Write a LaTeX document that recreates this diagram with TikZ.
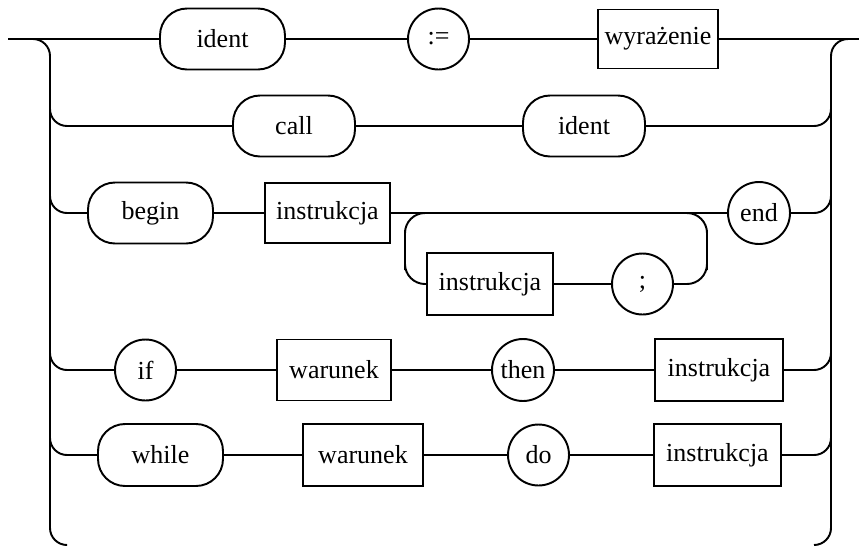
\documentclass[tikz,border=0pt]{standalone}
\usepackage{fontspec}
\setmainfont{Liberation Serif}

\tikzset{
  term/.style={draw, rectangle, rounded corners=0.54cm, minimum width=2.5cm, minimum height=1.22cm, inner sep=0pt},
  nterm/.style={draw, rectangle, minimum width=2.5cm, minimum height=1.22cm, inner sep=2pt},
  kw/.style={draw, circle, minimum size=1.22cm, inner sep=0pt},
  bus/.style={rounded corners=0.34cm},
  lp/.style={rounded corners=0.4cm}
}

\begin{document}
\begin{tikzpicture}[x=0.02cm, y=-0.02cm, line width=1.1pt, font=\fontsize{14.8}{18}\selectfont]
        \useasboundingbox (0,0) rectangle (859,545);
        % rows
        \node[term] (id1) at (222.5,39) {ident};
        \node[kw] (asg) at (438.5,39) {:=};
        \node[nterm, minimum width=2.4cm, minimum height=1.18cm] (wyr) at (658,39) {wyrażenie};
        \node[term, minimum width=2.44cm] (call) at (294,126) {call};
        \node[term, minimum width=2.44cm] (id2) at (584,126) {ident};
        \node[term] (begin) at (150.5,213) {begin};
        \node[nterm, minimum height=1.2cm] (in1) at (327.5,213) {instrukcja};
        \node[kw, minimum size=1.24cm] (end) at (759,213) {end};
        \node[nterm, minimum width=2.52cm, minimum height=1.24cm] (in2) at (490,284) {instrukcja};
        \node[kw] (semi) at (642.5,284) {;};
        \node[kw] (if) at (145.5,370) {if};
        \node[nterm, minimum width=2.28cm] (war1) at (334,370) {warunek};
        \node[kw, minimum size=1.24cm] (then) at (523,370) {then};
        \node[nterm, minimum width=2.56cm, minimum height=1.24cm] (in3) at (719,370) {instrukcja};
        \node[term, minimum height=1.24cm] (while) at (160.5,455) {while};
        \node[nterm, minimum width=2.4cm, minimum height=1.24cm] (war2) at (363,455) {warunek};
        \node[kw] (do) at (538.5,455) {do};
        \node[nterm, minimum width=2.54cm, minimum height=1.24cm] (in4) at (717.5,455) {instrukcja};
        % ends of the rails
        \coordinate (in) at (8,39);
        \coordinate (out) at (859,39);
        \coordinate (lbus) at (50,545);
        \coordinate (rbus) at (831,545);
        \coordinate (lb) at (67,545);
        \coordinate (rb) at (814,545);
        \coordinate (lt) at (50,60);
        \coordinate (rt) at (831,60);
        % loop corners
        \coordinate (lpl) at (405,250);
        \coordinate (lpr) at (707,250);
        \coordinate (lptop1) at (450,213);
        \coordinate (lptop2) at (680,213);
        % rails
        \draw[bus] (in) -| (lbus) -- (lb);
        \draw[bus] (out) -| (rbus) -- (rb);
        \draw (in) -- (id1) -- (asg) -- (wyr) -- (out);
        \draw[bus] (lt) |- (call.west);
        \draw (call) -- (id2);
        \draw[bus] (id2.east) -| (rt);
        \draw[bus] (lt) |- (begin.west);
        \draw (begin) -- (in1) -- (end);
        \draw[bus] (end.east) -| (rt);
        \draw[lp] (lptop1) -| (lpl) |- (in2.west);
        \draw (in2) -- (semi);
        \draw[lp] (semi.east) -| (lpr) |- (lptop2);
        \draw[bus] (lt) |- (if.west);
        \draw (if) -- (war1) -- (then) -- (in3);
        \draw[bus] (in3.east) -| (rt);
        \draw[bus] (lt) |- (while.west);
        \draw (while) -- (war2) -- (do) -- (in4);
        \draw[bus] (in4.east) -| (rt);
\end{tikzpicture}
\end{document}
